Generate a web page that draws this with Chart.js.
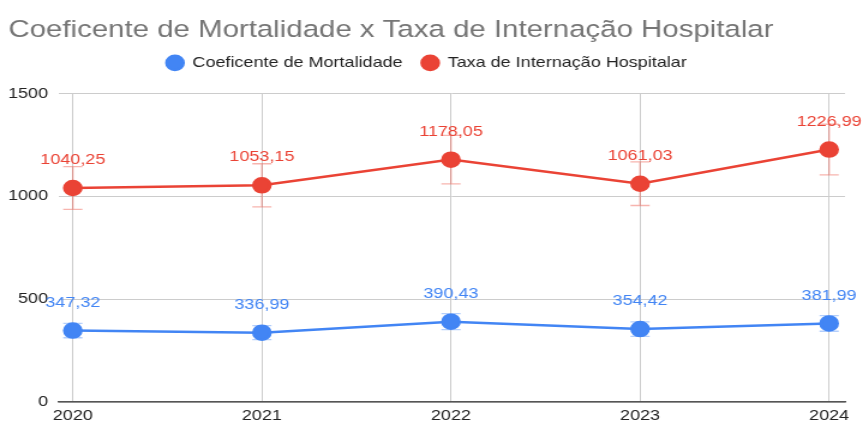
<!DOCTYPE html>
<html>
<head>
<meta charset="utf-8">
<script src="https://cdn.jsdelivr.net/npm/chart.js@4"></script>
<style>
  body { margin: 0; background: #fff; overflow: hidden; }
  /* the reference is stretched sideways, so the canvas is too */
  #chart { display: block; transform: scaleX(1.2003); transform-origin: 0 0; }
</style>
</head>
<body>
<canvas id="chart" width="719" height="423"></canvas>
<script>
// values
const years = [2020, 2021, 2022, 2023, 2024];
const mortalidade = [347.32, 336.99, 390.43, 354.42, 381.99];
const internacao = [1040.25, 1053.15, 1178.05, 1061.03, 1226.99];
const erroMortalidade = [35, 34, 39, 35, 38];
const erroInternacao = [104, 105, 118, 106, 123];
const yTicks = [0, 500, 1000, 1500];

const blue = '#4285f4';
const red = '#ea4335';
const font = '"Liberation Sans", Arial, sans-serif';

const fmt = v => v.toFixed(2).replace('.', ',');

// extra room between legend and plot
const legendGap = {
    id: 'legendGap',
    beforeInit(chart) {
        const fit = chart.legend.fit;
        chart.legend.fit = function () {
            fit.bind(chart.legend)();
            this.height += 13;
        };
    }
};

// draws the whiskers under the points
const errorBars = {
    id: 'errorBars',
    beforeDatasetsDraw(chart) {
        const ctx = chart.ctx;
        const y = chart.scales.y;
        chart.data.datasets.forEach((ds, i) => {
            const meta = chart.getDatasetMeta(i);
            ctx.save();
            ctx.strokeStyle = ds.errColor;
            ctx.lineWidth = 1.3;
            meta.data.forEach((pt, j) => {
                const v = ds.data[j].y;
                const e = ds.errors[j];
                const top = y.getPixelForValue(v + e);
                const bot = y.getPixelForValue(v - e);
                ctx.beginPath();
                ctx.moveTo(pt.x, top); ctx.lineTo(pt.x, bot);
                ctx.moveTo(pt.x - 8, top); ctx.lineTo(pt.x + 8, top);
                ctx.moveTo(pt.x - 8, bot); ctx.lineTo(pt.x + 8, bot);
                ctx.stroke();
            });
            ctx.restore();
        });
    }
};

// value labels above each point
const valueLabels = {
    id: 'valueLabels',
    afterDatasetsDraw(chart) {
        const ctx = chart.ctx;
        chart.data.datasets.forEach((ds, i) => {
            const meta = chart.getDatasetMeta(i);
            ctx.save();
            ctx.fillStyle = ds.borderColor;
            ctx.font = '15px ' + font;
            ctx.textAlign = 'center';
            ctx.textBaseline = 'middle';
            meta.data.forEach((pt, j) => {
                ctx.fillText(fmt(ds.data[j].y), pt.x, pt.y - 28);
            });
            ctx.restore();
        });
    }
};

new Chart(document.getElementById('chart'), {
    type: 'line',
    data: {
        datasets: [{
            label: 'Coeficente de Mortalidade',
            data: years.map((yr, i) => ({ x: yr, y: mortalidade[i] })),
            errors: erroMortalidade,
            borderColor: blue,
            backgroundColor: blue,
            errColor: 'rgba(66,133,244,0.4)',
            borderWidth: 2.5,
            pointRadius: 7,
            pointHoverRadius: 7
        }, {
            label: 'Taxa de Internação Hospitalar',
            data: years.map((yr, i) => ({ x: yr, y: internacao[i] })),
            errors: erroInternacao,
            borderColor: red,
            backgroundColor: red,
            errColor: 'rgba(234,67,53,0.4)',
            borderWidth: 2.5,
            pointRadius: 7,
            pointHoverRadius: 7
        }]
    },
    options: {
        responsive: false,
        animation: false,
        layout: { padding: { left: 7, right: 15, top: 0, bottom: 0 } },
        plugins: {
            title: {
                display: true,
                text: 'Coeficente de Mortalidade x Taxa de Internação Hospitalar',
                align: 'start',
                color: '#757575',
                font: { family: font, size: 24.5, weight: 'normal' },
                padding: { top: 16, bottom: -6 }
            },
            legend: {
                labels: {
                    usePointStyle: true,
                    pointStyle: 'circle',
                    boxHeight: 10,
                    pointStyleWidth: 14,
                    color: '#222',
                    padding: 16,
                    font: { family: font, size: 15 }
                }
            },
            tooltip: { enabled: false }
        },
        scales: {
            x: {
                type: 'linear',
                min: 2019.926,
                max: 2024.084,
                afterFit: s => { s.height = 21; s.paddingLeft = 0; s.paddingRight = 0; },
                grid: { color: '#cccccc', drawTicks: false },
                border: { color: '#555', width: 1.5 },
                ticks: {
                    stepSize: 1,
                    includeBounds: false,
                    padding: 5,
                    color: '#222',
                    font: { family: font, size: 15 },
                    callback: v => String(v)
                }
            },
            y: {
                min: 0,
                max: 1500,
                afterBuildTicks: s => { s.ticks = yTicks.map(v => ({ value: v })); },
                afterFit: s => { s.width = 42; },
                grid: { color: '#cccccc', drawTicks: false },
                border: { display: false },
                ticks: {
                    padding: 9,
                    color: '#222',
                    font: { family: font, size: 15 },
                    callback: v => String(v)
                }
            }
        }
    },
    plugins: [legendGap, errorBars, valueLabels]
});
</script>
</body>
</html>
